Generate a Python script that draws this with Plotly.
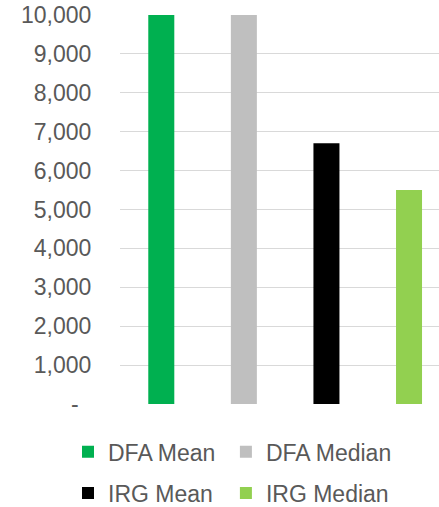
import plotly.graph_objects as go

series_names = ["DFA Mean", "DFA Median", "IRG Mean", "IRG Median"]
series_values = [10000, 10000, 6700, 5500]
series_colors = ["#00B050", "#BFBFBF", "#000000", "#92D050"]

tick_values = [0, 1000, 2000, 3000, 4000, 5000, 6000, 7000, 8000, 9000, 10000]
tick_labels = ["-\u00a0\u00a0"] + [f"{v:,}" for v in tick_values[1:]]

FONT = "Arial, Liberation Sans, sans-serif"
TEXT_GREY = "#595959"
GRID_GREY = "#D9D9D9"

# 2x2 legend grid, one legend box per entry so columns line up
legend_ids = ["legend", "legend2", "legend3", "legend4"]
legend_xy = [(-0.163, -0.123), (0.332, -0.123), (-0.163, -0.229), (0.332, -0.229)]

fig = go.Figure()
for i, (name, value, color) in enumerate(zip(series_names, series_values, series_colors)):
    fig.add_trace(
        go.Bar(
            x=[i],
            y=[value],
            name=name,
            width=0.315,
            marker={"color": color, "line": {"width": 0}},
            legend=legend_ids[i],
        )
    )

legend_style = {
    "orientation": "h",
    "xanchor": "left",
    "yanchor": "middle",
    "font": {"family": FONT, "size": 23, "color": TEXT_GREY},
    "itemclick": False,
    "bgcolor": "rgba(0,0,0,0)",
}

fig.update_layout(
    width=439,
    height=507,
    paper_bgcolor="white",
    plot_bgcolor="white",
    margin={"l": 120, "r": 0, "t": 15, "b": 103, "autoexpand": False},
    barmode="overlay",
    showlegend=True,
    font={"family": FONT, "size": 23, "color": TEXT_GREY},
    **{lid: {**legend_style, "x": x, "y": y} for lid, (x, y) in zip(legend_ids, legend_xy)},
)
fig.update_xaxes(
    range=[-0.5, 3.363],
    showticklabels=False,
    showgrid=False,
    zeroline=False,
    showline=False,
    ticks="",
)
fig.update_yaxes(
    range=[0, 10000],
    tickvals=tick_values,
    ticktext=tick_labels,
    showgrid=True,
    gridcolor=GRID_GREY,
    gridwidth=1.3,
    zeroline=False,
    showline=False,
    ticks="outside",
    ticklen=23,
    tickcolor="rgba(0,0,0,0)",
    ticklabeloverflow="allow",
    tickfont={"family": FONT, "size": 23, "color": TEXT_GREY},
)

# drop the default 8px body margin so the figure fills the window
fig.write_html(
    "out.html",
    config={"displayModeBar": False},
    post_script="document.body.style.margin = '0px';",
)
